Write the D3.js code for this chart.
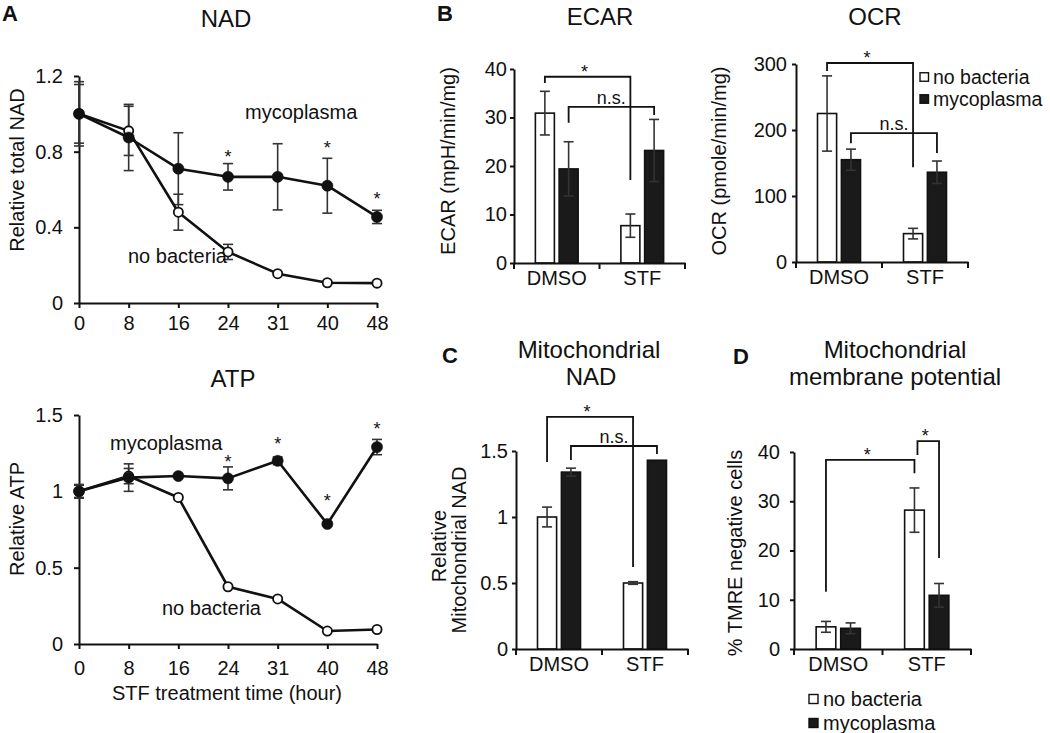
<!DOCTYPE html>
<html><head><meta charset="utf-8">
<script src="https://cdn.jsdelivr.net/npm/d3@7"></script>
<style>body{margin:0;background:#fff}svg{display:block}</style>
</head><body>
<script>
// ---------- DATA ----------
const timeLabels = ['0','8','16','24','31','40','48'];
// Panel A - NAD
const nadNoBact     = [1.0, 0.91, 0.48, 0.27, 0.155, 0.107, 0.105];
const nadNoBactErr  = [0.155, 0.13, 0.095, 0.04, 0, 0, 0];
const nadMyco       = [1.0, 0.875, 0.71, 0.667, 0.667, 0.62, 0.455];
const nadMycoErr    = [0.17, 0.175, 0.19, 0.07, 0.175, 0.145, 0.035];
const nadSig        = [null, null, null, 0.794, null, 0.841, 0.571];
const nadTicks      = [0, 0.4, 0.8, 1.2];
// Panel A - ATP
const atpNoBact     = [1.0, 1.1, 0.96, 0.375, 0.295, 0.085, 0.095];
const atpNoBactErr  = [0.04, 0.05, 0, 0, 0, 0, 0];
const atpMyco       = [1.0, 1.09, 1.1, 1.085, 1.2, 0.786, 1.29];
const atpMycoErr    = [0.045, 0.09, 0, 0.075, 0.025, 0.01, 0.05];
const atpSig        = [null, null, null, 1.218, 1.336, 0.963, 1.434];
const atpTicks      = [0, 0.5, 1, 1.5];
// Bar panels
const groups = ['DMSO', 'STF'];
const seriesNames = ['no bacteria', 'mycoplasma'];
const ecarNoBact = [30.9, 7.7],  ecarNoBactErr = [4.5, 2.4];
const ecarMyco   = [19.4, 23.2], ecarMycoErr   = [5.6, 6.4];
const ecarTicks  = [0, 10, 20, 30, 40];
const ocrNoBact  = [225, 43],    ocrNoBactErr  = [57, 8];
const ocrMyco    = [155, 136],   ocrMycoErr    = [16, 17];
const ocrTicks   = [0, 100, 200, 300];
const mitoNoBact = [1.0, 0.5],   mitoNoBactErr = [0.075, 0.01];
const mitoMyco   = [1.34, 1.43], mitoMycoErr   = [0.03, 0];
const mitoTicks  = [0, 0.5, 1, 1.5];
const tmreNoBact = [4.5, 28.2],  tmreNoBactErr = [1.1, 4.5];
const tmreMyco   = [4.2, 10.9],  tmreMycoErr   = [1.1, 2.4];
const tmreTicks  = [0, 10, 20, 30, 40];
// significance brackets: a/b = [groupIndex, seriesIndex]; levels in data units
const ecarBrackets = [
  {a:[0,0], b:[1,0], top:38.4, aEnd:37.1, bEnd:17.1, label:'*'},
  {a:[0,1], b:[1,1], top:32.2, aEnd:28.9, bEnd:30.5, label:'n.s.'}];
const ocrBrackets = [
  {a:[0,0], b:[1,0], top:301.5, aEnd:289.4, bEnd:143.7, label:'*'},
  {a:[0,1], b:[1,1], top:195.3, aEnd:180, bEnd:165, label:'n.s.'}];
const mitoBrackets = [
  {a:[0,0], b:[1,0], top:1.758, aEnd:1.417, bEnd:0.621, label:'*'},
  {a:[0,1], b:[1,1], top:1.538, aEnd:1.432, bEnd:1.477, label:'n.s.'}];
const tmreBrackets = [
  {a:[0,0], b:[1,0], top:38.4, aEnd:11.6, bEnd:35.7, label:'*'},
  {a:[1,0], b:[1,1], top:42.2, aEnd:39.4, bEnd:18.5, label:'*', shiftA:true}];

// ---------- DRAWING ----------
const FONT = '"Liberation Sans", Arial, Helvetica, sans-serif';
const INK = '#111';
const svg = d3.select('body').append('svg').attr('width', 1050).attr('height', 733)
  .style('font-family', FONT);
svg.append('rect').attr('width', 1050).attr('height', 733).attr('fill', '#fff');

function txt(x, y, s, size, opts = {}) {
  const t = svg.append('text').attr('x', x).attr('y', y).text(s)
    .attr('font-size', size).attr('fill', INK)
    .attr('text-anchor', opts.anchor || 'middle');
  if (opts.bold) t.attr('font-weight', 'bold');
  if (opts.rotate) t.attr('transform', `rotate(-90,${x},${y})`);
  return t;
}
function styleAxis(g) {
  g.selectAll('path.domain').attr('stroke', INK).attr('stroke-width', 2);
  g.selectAll('.tick line').attr('stroke', INK).attr('stroke-width', 2);
  g.selectAll('.tick text').attr('font-size', 20).attr('fill', INK).style('font-family', FONT);
}
function errBar(g, x, y0, y1, w) {
  g.append('line').attr('x1', x).attr('x2', x).attr('y1', y0).attr('y2', y1);
  g.append('line').attr('x1', x - w).attr('x2', x + w).attr('y1', y0).attr('y2', y0);
  g.append('line').attr('x1', x - w).attr('x2', x + w).attr('y1', y1).attr('y2', y1);
}

function linePanel(c) {
  const x = d3.scalePoint().domain(timeLabels).range([79, 377]);
  const y = d3.scaleLinear().domain([0, c.ticks[c.ticks.length - 1]]).range([c.y0, c.y1]);
  const gx = svg.append('g').attr('transform', `translate(0,${c.y0})`)
    .call(d3.axisBottom(x).tickSize(5).tickPadding(c.xPad).tickSizeOuter(0));
  styleAxis(gx);
  const gy = svg.append('g').attr('transform', `translate(79,0)`)
    .call(d3.axisLeft(y).tickValues(c.ticks).tickFormat(d => String(d)).tickSize(5).tickPadding(11).tickSizeOuter(0));
  styleAxis(gy);
  const eg = svg.append('g').attr('stroke', '#333').attr('stroke-width', 1.6);
  const series = [[c.nb, c.nbErr, false], [c.my, c.myErr, true]];
  series.forEach(([v, e]) => v.forEach((d, i) => {
    if (e[i] > 0) errBar(eg, x(timeLabels[i]), y(d - e[i]), y(d + e[i]), 5);
  }));
  const line = d3.line().x((d, i) => x(timeLabels[i])).y(d => y(d));
  series.forEach(([v, e, filled]) => {
    svg.append('path').datum(v).attr('d', line).attr('fill', 'none')
      .attr('stroke', INK).attr('stroke-width', 2.6).attr('stroke-linejoin', 'round');
    svg.append('g').selectAll('circle').data(v).join('circle')
      .attr('cx', (d, i) => x(timeLabels[i])).attr('cy', d => y(d))
      .attr('r', filled ? 5.6 : 4.6)
      .attr('fill', filled ? INK : '#fff')
      .attr('stroke', INK).attr('stroke-width', filled ? 0.5 : 1.8);
  });
  c.sig.forEach((s, i) => {
    if (s != null) txt(x(timeLabels[i]), y(s) + 10, '*', 18);
  });
}

linePanel({y0: 303, y1: 76, ticks: nadTicks, xPad: 8, nb: nadNoBact, nbErr: nadNoBactErr,
  my: nadMyco, myErr: nadMycoErr, sig: nadSig});
linePanel({y0: 644, y1: 415, ticks: atpTicks, xPad: 12, nb: atpNoBact, nbErr: atpNoBactErr,
  my: atpMyco, myErr: atpMycoErr, sig: atpSig});

// Panel A texts
txt(2, 21, 'A', 22, {anchor: 'start', bold: true});
txt(226, 27, 'NAD', 24);
txt(233, 387, 'ATP', 24);
txt(24, 170, 'Relative total NAD', 20, {rotate: true});
txt(24, 519, 'Relative ATP', 20, {rotate: true});
txt(245, 119, 'mycoplasma', 20, {anchor: 'start'});
txt(128, 263, 'no bacteria', 20, {anchor: 'start'});
txt(110, 450, 'mycoplasma', 20, {anchor: 'start'});
txt(162, 615, 'no bacteria', 20, {anchor: 'start'});
txt(227, 700, 'STF treatment time (hour)', 20);

function barPanel(c) {
  const x0 = d3.scaleBand().domain(groups).range([c.xl, c.xr]).padding(0);
  const bw = x0.bandwidth();
  const x1 = d3.scaleBand().domain(seriesNames).range([bw * 0.25, bw * 0.75]).paddingInner(0.2).paddingOuter(0);
  const y = d3.scaleLinear().domain([0, c.ticks[c.ticks.length - 1]]).range([c.y0, c.y1]);
  const vals = [[c.nb, c.nbErr], [c.my, c.myErr]];
  const cx = (gi, si) => x0(groups[gi]) + x1(seriesNames[si]) + x1.bandwidth() / 2;
  // bars
  vals.forEach(([v], si) => {
    svg.append('g').selectAll('rect').data(v).join('rect')
      .attr('x', (d, gi) => x0(groups[gi]) + x1(seriesNames[si]))
      .attr('width', x1.bandwidth())
      .attr('y', d => y(d)).attr('height', d => y(0) - y(d))
      .attr('fill', si === 0 ? '#fff' : '#1a1a1a')
      .attr('stroke', INK).attr('stroke-width', 1.6);
  });
  const eg = svg.append('g').attr('stroke', '#333').attr('stroke-width', 1.6);
  vals.forEach(([v, e], si) => v.forEach((d, gi) => {
    if (e[gi] > 0) errBar(eg, cx(gi, si), y(d - e[gi]), y(d + e[gi]), 5);
  }));
  // axes
  const gx = svg.append('g').attr('transform', `translate(0,${c.y0})`)
    .call(d3.axisBottom(x0).tickSize(0).tickPadding(8).tickSizeOuter(0));
  styleAxis(gx);
  const bounds = groups.map(g => x0(g)).concat([c.xr]);
  gx.selectAll('line.bound').data(bounds).join('line').attr('class', 'bound')
    .attr('x1', d => d).attr('x2', d => d).attr('y1', 0).attr('y2', 6)
    .attr('stroke', INK).attr('stroke-width', 2);
  const gy = svg.append('g').attr('transform', `translate(${c.xl},0)`)
    .call(d3.axisLeft(y).tickValues(c.ticks).tickFormat(d => String(d)).tickSize(4).tickPadding(c.yPad).tickSizeOuter(0));
  styleAxis(gy);
  // brackets
  const bg = svg.append('g').attr('stroke', INK).attr('stroke-width', 1.8).attr('fill', 'none');
  c.brackets.forEach(b => {
    const xa = cx(b.a[0], b.a[1]) + (b.shiftA ? 3 : 0), xb = cx(b.b[0], b.b[1]);
    bg.append('path').attr('d', `M${xa},${y(b.aEnd)}V${y(b.top)}H${xb}V${y(b.bEnd)}`);
    const mid = (xa + xb) / 2;
    if (b.label === '*') txt(mid - 3, y(b.top) + 1, '*', 18);
    else txt(mid, y(b.top) - 3, b.label, 18);
  });
}

barPanel({xl: 514, xr: 685, y0: 263, y1: 69, ticks: ecarTicks, yPad: 3,
  nb: ecarNoBact, nbErr: ecarNoBactErr, my: ecarMyco, myErr: ecarMycoErr, brackets: ecarBrackets});
barPanel({xl: 796, xr: 968, y0: 262, y1: 64, ticks: ocrTicks, yPad: 5,
  nb: ocrNoBact, nbErr: ocrNoBactErr, my: ocrMyco, myErr: ocrMycoErr, brackets: ocrBrackets});
barPanel({xl: 516, xr: 688, y0: 649, y1: 451, ticks: mitoTicks, yPad: 4,
  nb: mitoNoBact, nbErr: mitoNoBactErr, my: mitoMyco, myErr: mitoMycoErr, brackets: mitoBrackets});
barPanel({xl: 794, xr: 971, y0: 649, y1: 452, ticks: tmreTicks, yPad: 10,
  nb: tmreNoBact, nbErr: tmreNoBactErr, my: tmreMyco, myErr: tmreMycoErr, brackets: tmreBrackets});

// Panel B/C/D texts
txt(437, 21, 'B', 22, {anchor: 'start', bold: true});
txt(600, 25, 'ECAR', 24);
txt(875, 25, 'OCR', 24);
txt(455, 161, 'ECAR (mpH/min/mg)', 20, {rotate: true});
txt(726, 161, 'OCR (pmole/min/mg)', 20, {rotate: true});
txt(442, 363, 'C', 22, {anchor: 'start', bold: true});
txt(589, 358, 'Mitochondrial', 24);
txt(591, 385, 'NAD', 24);
txt(446, 546, 'Relative', 20, {rotate: true});
txt(466, 550, 'Mitochondrial NAD', 20, {rotate: true});
txt(733, 364, 'D', 22, {anchor: 'start', bold: true});
txt(895, 358, 'Mitochondrial', 24);
txt(895, 385, 'membrane potential', 24);
txt(742, 553, '% TMRE negative cells', 20, {rotate: true});

// legends
function legend(x, yc, gap, size, fs, tx) {
  seriesNames.forEach((s, i) => {
    svg.append('rect').attr('x', x).attr('y', yc + i * gap - size / 2).attr('width', size).attr('height', size)
      .attr('fill', i === 0 ? '#fff' : '#1a1a1a').attr('stroke', INK).attr('stroke-width', 1.4);
    txt(tx, yc + i * gap + 7, s, fs, {anchor: 'start'});
  });
}
legend(920, 77, 22, 8.5, 19.5, 933);
legend(809, 699, 24, 9, 20, 823);
</script>
</body></html>
